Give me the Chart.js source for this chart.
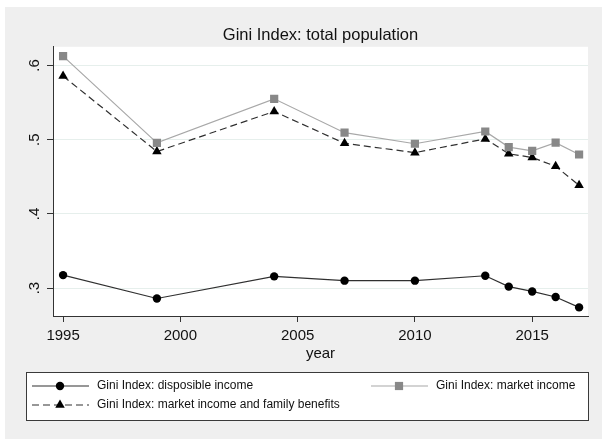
<!DOCTYPE html>
<html>
<head>
<meta charset="utf-8">
<script src="https://cdn.jsdelivr.net/npm/chart.js@4/dist/chart.umd.min.js"></script>
<style>
  html, body { margin: 0; padding: 0; background: #fff; }
  #wrap { width: 602px; height: 439px; }
</style>
</head>
<body>
<div id="wrap"><canvas id="myChart" width="602" height="439"></canvas></div>
<script>
// Gini index by year
const years = [1995, 1999, 2004, 2007, 2010, 2013, 2014, 2015, 2016, 2017];
const dispIncome   = [0.3175, 0.286, 0.3158, 0.310, 0.310, 0.3166, 0.302, 0.2955, 0.288, 0.274];
const marketIncome = [0.6125, 0.4956, 0.555, 0.5094, 0.4945, 0.511, 0.490, 0.485, 0.496, 0.480];
const marketFamily = [0.5856, 0.484, 0.538, 0.495, 0.4825, 0.501, 0.481, 0.476, 0.464, 0.4385];

const seriesNames = [
  'Gini Index: disposible income',
  'Gini Index: market income',
  'Gini Index: market income and family benefits'
];
const xTicks = [1995, 2000, 2005, 2010, 2015];
const yTicks = [0.3, 0.4, 0.5, 0.6];
const yTickLabels = ['.3', '.4', '.5', '.6'];

const FONT = '"Liberation Sans", Arial, sans-serif';

function pts(vals) {
  return years.map((y, i) => ({ x: y, y: vals[i] }));
}

// gray page, white plot region
const backdrop = {
  id: 'backdrop',
  beforeDraw(chart) {
    const ctx = chart.ctx, a = chart.chartArea;
    ctx.save();
    ctx.fillStyle = '#fff';
    ctx.fillRect(0, 0, chart.width, chart.height);
    ctx.fillStyle = '#efefef';
    ctx.fillRect(5, 7, chart.width - 5, chart.height - 7);
    ctx.fillStyle = '#fff';
    ctx.fillRect(a.left, a.top, a.right - a.left, a.bottom - a.top);
    ctx.restore();
  }
};

// boxed legend under the axis title
const legendSpots = [[32, 386], [371, 386], [32, 405]];
const boxLegend = {
  id: 'boxLegend',
  afterDraw(chart) {
    const ctx = chart.ctx;
    ctx.save();
    ctx.fillStyle = '#fff';
    ctx.fillRect(26, 372, 563, 49);
    ctx.strokeStyle = '#3a3a3a';
    ctx.lineWidth = 1;
    ctx.strokeRect(26.5, 372.5, 562, 48);
    chart.data.datasets.forEach((ds, i) => {
      const [x, y] = legendSpots[i];
      ctx.beginPath();
      ctx.setLineDash(ds.borderDash || []);
      ctx.strokeStyle = ds.borderColor;
      ctx.lineWidth = ds.borderWidth;
      ctx.moveTo(x, y);
      ctx.lineTo(x + 57, y);
      ctx.stroke();
      ctx.setLineDash([]);
      ctx.fillStyle = ds.pointBackgroundColor;
      Chart.helpers.drawPoint(ctx, { pointStyle: ds.pointStyle, radius: ds.pointRadius, borderWidth: 0 }, x + 28, y);
      ctx.fillStyle = '#111';
      ctx.font = '12px ' + FONT;
      ctx.textBaseline = 'middle';
      ctx.textAlign = 'left';
      ctx.fillText(ds.label, x + 65, y);
    });
    ctx.restore();
  }
};

const data = {
  datasets: [
    {
      label: seriesNames[0],
      data: pts(dispIncome),
      borderColor: '#303030',
      borderWidth: 1.2,
      pointStyle: 'circle',
      pointRadius: 4.2,
      pointBackgroundColor: '#000',
      pointBorderWidth: 0
    },
    {
      label: seriesNames[1],
      data: pts(marketIncome),
      borderColor: '#a8a8a8',
      borderWidth: 1.2,
      pointStyle: 'rect',
      pointRadius: 5.8,
      pointBackgroundColor: '#888',
      pointBorderWidth: 0
    },
    {
      label: seriesNames[2],
      data: pts(marketFamily),
      borderColor: '#303030',
      borderWidth: 1.2,
      borderDash: [7, 4],
      pointStyle: 'triangle',
      pointRadius: 5.5,
      pointBackgroundColor: '#000',
      pointBorderWidth: 0
    }
  ]
};

const config = {
  type: 'line',
  data: data,
  options: {
    responsive: false,
    devicePixelRatio: 1,
    animation: false,
    layout: { padding: { top: 26, right: 14, bottom: 76, left: 0 } },
    plugins: {
      legend: { display: false },
      tooltip: { enabled: false },
      title: {
        display: true,
        text: 'Gini Index: total population',
        fullSize: false,
        color: '#111',
        font: { family: FONT, size: 16.5, weight: 'normal' },
        padding: { top: 0, bottom: 1 }
      }
    },
    scales: {
      x: {
        type: 'linear',
        min: 1994.57,
        max: 2017.38,
        afterBuildTicks(scale) { scale.ticks = xTicks.map(v => ({ value: v })); },
        afterFit(scale) { scale.height = 47; },
        ticks: {
          color: '#111',
          font: { family: FONT, size: 15 },
          padding: 5,
          maxRotation: 0,
          callback: v => String(v)
        },
        grid: { drawOnChartArea: false, tickLength: 6, tickColor: '#333' },
        border: { color: '#333', width: 1 },
        title: {
          display: true,
          text: 'year',
          color: '#111',
          font: { family: FONT, size: 15 },
          padding: { top: 0, bottom: 0 }
        }
      },
      y: {
        type: 'linear',
        min: 0.2624,
        max: 0.6251,
        afterBuildTicks(scale) { scale.ticks = yTicks.map(v => ({ value: v })); },
        afterFit(scale) { scale.width = 53; },
        ticks: {
          color: '#111',
          font: { family: FONT, size: 15 },
          minRotation: 90,
          maxRotation: 90,
          crossAlign: 'center',
          padding: 6,
          callback: v => yTickLabels[yTicks.findIndex(t => Math.abs(t - v) < 1e-9)]
        },
        grid: { color: '#e6efec', lineWidth: 1, tickLength: 6, tickColor: '#333' },
        border: { color: '#333', width: 1 }
      }
    }
  },
  plugins: [backdrop, boxLegend]
};

const myChart = new Chart(document.getElementById('myChart'), config);
</script>
</body>
</html>
